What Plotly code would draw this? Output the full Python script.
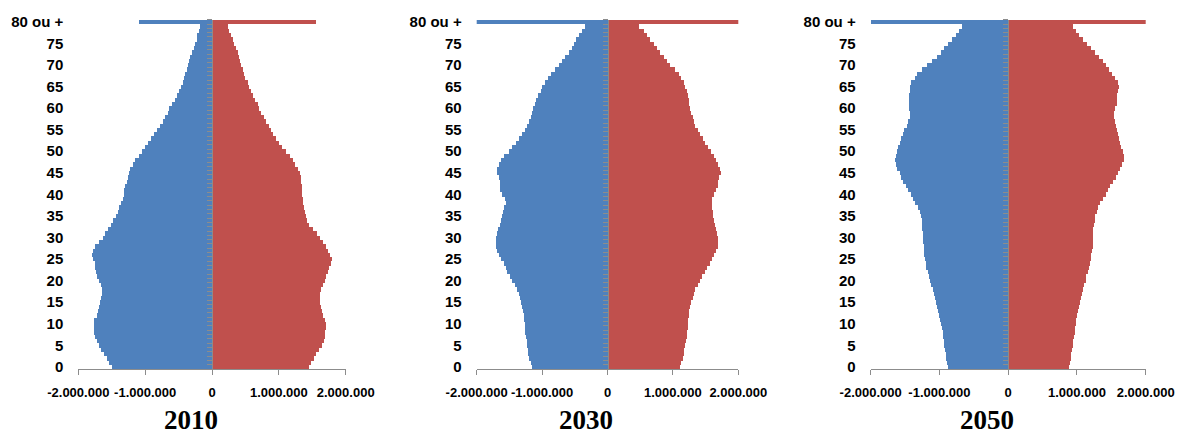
import plotly.graph_objects as go

# Age classes, youngest first; the last class groups everyone aged 80 and over
ages = [str(a) for a in range(80)] + ["80 ou +"]
age_ticks = ["0", "5", "10", "15", "20", "25", "30", "35", "40", "45",
             "50", "55", "60", "65", "70", "75", "80 ou +"]

# Population by single year of age, in thousands (age 0 ... 79, 80 ou +)
hommes_2010 = [1492, 1532, 1567, 1617, 1657, 1692, 1722, 1742, 1756, 1766,
               1766, 1756, 1722, 1702, 1692, 1672, 1657, 1647, 1647, 1662,
               1682, 1712, 1732, 1742, 1751, 1781, 1796, 1771, 1742, 1692,
               1632, 1592, 1547, 1507, 1472, 1432, 1407, 1382, 1357, 1332,
               1317, 1307, 1292, 1272, 1257, 1243, 1218, 1183, 1143, 1093,
               1043, 993, 948, 908, 858, 823, 773, 734, 694, 659,
               634, 594, 554, 519, 484, 459, 434, 409, 394, 369,
               359, 344, 319, 299, 269, 245, 225, 215, 195, 175,
               1083]
femmes_2010 = [1452, 1487, 1527, 1567, 1607, 1652, 1677, 1697, 1702, 1707,
               1707, 1702, 1667, 1652, 1637, 1627, 1622, 1627, 1642, 1667,
               1692, 1717, 1737, 1761, 1791, 1796, 1776, 1746, 1712, 1662,
               1622, 1582, 1517, 1462, 1432, 1412, 1392, 1382, 1372, 1362,
               1357, 1352, 1347, 1342, 1332, 1317, 1292, 1253, 1213, 1168,
               1118, 1048, 1003, 963, 923, 888, 853, 813, 778, 739,
               714, 689, 649, 614, 589, 564, 539, 504, 479, 464,
               439, 424, 404, 389, 364, 339, 314, 289, 264, 240,
               1562]

hommes_2030 = [1157, 1182, 1208, 1218, 1223, 1233, 1243, 1249, 1259, 1259,
               1269, 1274, 1284, 1299, 1310, 1320, 1335, 1361, 1386, 1422,
               1463, 1488, 1539, 1564, 1590, 1626, 1666, 1692, 1717, 1717,
               1707, 1692, 1677, 1651, 1626, 1615, 1600, 1590, 1564, 1575,
               1615, 1651, 1651, 1656, 1666, 1692, 1692, 1666, 1626, 1580,
               1514, 1463, 1401, 1361, 1310, 1269, 1243, 1208, 1182, 1157,
               1141, 1116, 1091, 1065, 1029, 1004, 963, 912, 861, 810,
               749, 698, 657, 596, 555, 520, 484, 433, 392, 352,
               2008]
femmes_2030 = [1111, 1126, 1147, 1162, 1172, 1187, 1203, 1213, 1218, 1223,
               1228, 1233, 1238, 1249, 1264, 1279, 1299, 1315, 1340, 1376,
               1407, 1442, 1483, 1519, 1559, 1595, 1631, 1656, 1682, 1687,
               1687, 1677, 1656, 1636, 1621, 1610, 1605, 1595, 1595, 1595,
               1621, 1656, 1687, 1687, 1707, 1738, 1722, 1687, 1656, 1621,
               1580, 1534, 1493, 1452, 1417, 1376, 1340, 1315, 1299, 1279,
               1264, 1249, 1238, 1228, 1213, 1187, 1162, 1126, 1085, 1024,
               958, 907, 856, 805, 754, 703, 652, 601, 550, 484,
               2028]

hommes_2050 = [882, 892, 902, 911, 921, 931, 940, 950, 960, 974,
               989, 999, 1008, 1023, 1037, 1052, 1071, 1086, 1105, 1125,
               1144, 1159, 1173, 1193, 1207, 1217, 1227, 1231, 1236, 1241,
               1246, 1246, 1251, 1256, 1260, 1270, 1290, 1319, 1353, 1387,
               1425, 1459, 1498, 1532, 1561, 1585, 1619, 1639, 1648, 1643,
               1629, 1610, 1585, 1561, 1537, 1513, 1483, 1459, 1435, 1435,
               1445, 1450, 1450, 1445, 1440, 1435, 1416, 1367, 1328, 1256,
               1183, 1110, 1047, 989, 940, 882, 819, 761, 722, 674,
               2007]
femmes_2050 = [877, 892, 902, 911, 921, 931, 940, 950, 960, 970,
               979, 989, 999, 1008, 1023, 1037, 1057, 1071, 1086, 1105,
               1120, 1134, 1154, 1168, 1183, 1193, 1207, 1217, 1222, 1222,
               1227, 1227, 1231, 1241, 1256, 1265, 1280, 1309, 1338, 1377,
               1411, 1445, 1483, 1522, 1561, 1595, 1629, 1658, 1677, 1677,
               1663, 1643, 1629, 1610, 1595, 1580, 1561, 1542, 1532, 1532,
               1556, 1571, 1580, 1580, 1590, 1605, 1590, 1556, 1508, 1459,
               1411, 1377, 1314, 1265, 1193, 1144, 1086, 1023, 989, 931,
               2026]

annees = ["2010", "2030", "2050"]
hommes = [hommes_2010, hommes_2030, hommes_2050]
femmes = [femmes_2010, femmes_2030, femmes_2050]

x_ticks = [-2000, -1000, 0, 1000, 2000]
x_tick_labels = ["-2.000.000", "-1.000.000", "0", "1.000.000", "2.000.000"]

BLEU = "#4F81BD"
ROUGE = "#C0504D"
GRIS = "#8C8C8C"

W, H = 1179, 436
# plot areas in pixels (left, right) and shared vertical extent
panels_px = [(78.3, 345.7), (476.7, 738.3), (870.7, 1145.7)]
title_x_px = [191, 586, 987]
title_y_px = 420
top_px, bottom_px = 19.7, 369.0
y_domain = [1 - bottom_px / H, 1 - top_px / H]

tick_font = dict(family="Liberation Sans, Arial, sans-serif", size=13,
                 color="#000000", weight="bold")
age_font = dict(family="Liberation Sans, Arial, sans-serif", size=15,
                color="#000000", weight="bold")

fig = go.Figure()
layout = dict(
    width=W, height=H,
    margin=dict(l=0, r=0, t=0, b=0, autoexpand=False),
    paper_bgcolor="white", plot_bgcolor="white",
    showlegend=False, barmode="relative", bargap=0,
    annotations=[],
)

for i, (annee, h, f) in enumerate(zip(annees, hommes, femmes)):
    n = i + 1
    sfx = "" if n == 1 else str(n)
    xa, ya, ya_zero = f"x{sfx}", f"y{sfx}", f"y{n + 3}"

    # men to the left of zero, women to the right on the zero-line axis
    fig.add_trace(go.Bar(y=ages, x=[-v for v in h], orientation="h",
                         marker=dict(color=BLEU, line=dict(width=0)),
                         name="Hommes", xaxis=xa, yaxis=ya))
    fig.add_trace(go.Bar(y=ages, x=f, orientation="h",
                         marker=dict(color=ROUGE, line=dict(width=0)),
                         name="Femmes", xaxis=xa, yaxis=ya_zero))

    left, right = panels_px[i]
    dom = [left / W, right / W]
    layout[f"xaxis{sfx}"] = dict(
        domain=dom, anchor=ya, range=[-2000, 2000],
        tickmode="array", tickvals=x_ticks, ticktext=x_tick_labels,
        tickangle=0, tickfont=tick_font, automargin=False,
        showline=True, linecolor=GRIS, linewidth=1,
        ticks="outside", ticklen=5, tickcolor=GRIS, tickwidth=1,
        showgrid=False, zeroline=False, fixedrange=True,
        ticklabelstandoff=6,
    )
    layout[f"yaxis{sfx}"] = dict(
        domain=y_domain, anchor=xa, type="category",
        categoryorder="array", categoryarray=ages,
        range=[-0.5, 80.5], automargin=False,
        tickmode="array", tickvals=age_ticks, ticktext=age_ticks,
        tickfont=age_font, ticks="", showline=False, showgrid=False,
        zeroline=False, fixedrange=True, ticklabelstandoff=14,
    )
    # vertical category axis drawn on the zero line, one tick between ages
    layout[f"yaxis{n + 3}"] = dict(
        overlaying=ya, anchor="free", position=(dom[0] + dom[1]) / 2,
        side="left", type="category",
        categoryorder="array", categoryarray=ages,
        range=[-0.5, 80.5], automargin=False,
        tickmode="linear", tick0=0, dtick=1, tickson="boundaries",
        showticklabels=False, showline=True, linecolor=GRIS, linewidth=1,
        ticks="outside", ticklen=5, tickcolor=GRIS, tickwidth=1,
        showgrid=False, zeroline=False, fixedrange=True, layer="above traces",
    )
    layout["annotations"].append(dict(
        text=annee, xref="paper", yref="paper",
        x=title_x_px[i] / W, y=1 - title_y_px / H,
        xanchor="center", yanchor="middle", showarrow=False,
        font=dict(family="Liberation Serif, Times New Roman, serif", size=27,
                  color="#000000", weight="bold"),
    ))

fig.update_layout(**layout)
fig.write_html("out.html", config={"displayModeBar": False})
